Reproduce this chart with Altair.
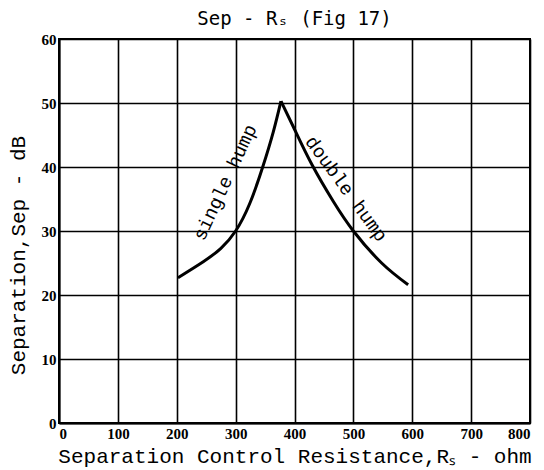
import altair as alt
import pandas as pd

# Left branch (single hump) and right branch (double hump)
left_x = [202, 245, 275, 300, 324, 346, 364, 377]
left_y = [22.7, 25.2, 27.3, 30.0, 34.3, 40.0, 45.5, 50.3]
right_x = [377, 400, 430, 466, 500, 548, 593]
right_y = [50.3, 45.9, 40.3, 34.6, 30.0, 25.0, 21.6]

x_ticks = [0, 100, 200, 300, 400, 500, 600, 700, 800]
y_ticks = [0, 10, 20, 30, 40, 50, 60]

label_text = ["single hump", "double hump"]
label_x = [282, 488]
label_y = [37.6, 36.6]

curve = pd.DataFrame({
    "rs": left_x + right_x,
    "sep": left_y + right_y,
    "branch": ["single"] * len(left_x) + ["double"] * len(right_x),
})
labels = pd.DataFrame({"rs": label_x, "sep": label_y, "text": label_text})

xs = alt.Scale(domain=[0, 800], nice=False, zero=False)
ys = alt.Scale(domain=[0, 60], nice=False)

base = alt.Chart(curve)

line = base.mark_line(color="black", strokeWidth=3, interpolate="natural").encode(
    x=alt.X("rs:Q", scale=xs,
            axis=alt.Axis(values=x_ticks, title="Separation Control Resistance,Rₛ - ohm",
                          titleFont="Liberation Mono", titleFontSize=21, titleFontWeight="normal",
                          titleColor="black", titlePadding=4)),
    y=alt.Y("sep:Q", scale=ys,
            axis=alt.Axis(values=y_ticks, title="Separation,Sep - dB",
                          titleFont="Liberation Mono", titleFontSize=21, titleFontWeight="normal",
                          titleColor="black", titleY=216, titlePadding=13)),
    detail="branch:N",
)

lab1 = alt.Chart(labels[labels.text == "single hump"]).mark_text(
    angle=295, font="Liberation Mono", fontSize=19, color="black", align="center", baseline="middle"
).encode(x=alt.X("rs:Q", scale=xs), y=alt.Y("sep:Q", scale=ys), text="text:N")

lab2 = alt.Chart(labels[labels.text == "double hump"]).mark_text(
    angle=54, font="Liberation Mono", fontSize=19, color="black", align="center", baseline="middle"
).encode(x=alt.X("rs:Q", scale=xs), y=alt.Y("sep:Q", scale=ys), text="text:N")

chart = alt.layer(line, lab1, lab2).properties(
    width=471, height=384,
    background="white",
    title=alt.TitleParams("Sep - Rₛ (Fig 17)", font="DejaVu Sans Mono", fontSize=19,
                          fontWeight="normal", color="black", offset=3),
    autosize=alt.AutoSizeParams(type="none"),
    padding={"left": 51, "top": 31, "right": 6, "bottom": 47},
).configure_view(
    stroke="black", strokeWidth=2
).configure_axis(
    domainColor="black", domainWidth=2,
    gridColor="black", gridWidth=1.6, gridOpacity=1,
    ticks=False,
    labelFont="Liberation Sans Narrow", labelFontWeight="bold", labelFontSize=15,
    labelColor="black", labelPadding=3,
)

chart.save("out.html", embed_options={"renderer": "svg", "actions": False})
